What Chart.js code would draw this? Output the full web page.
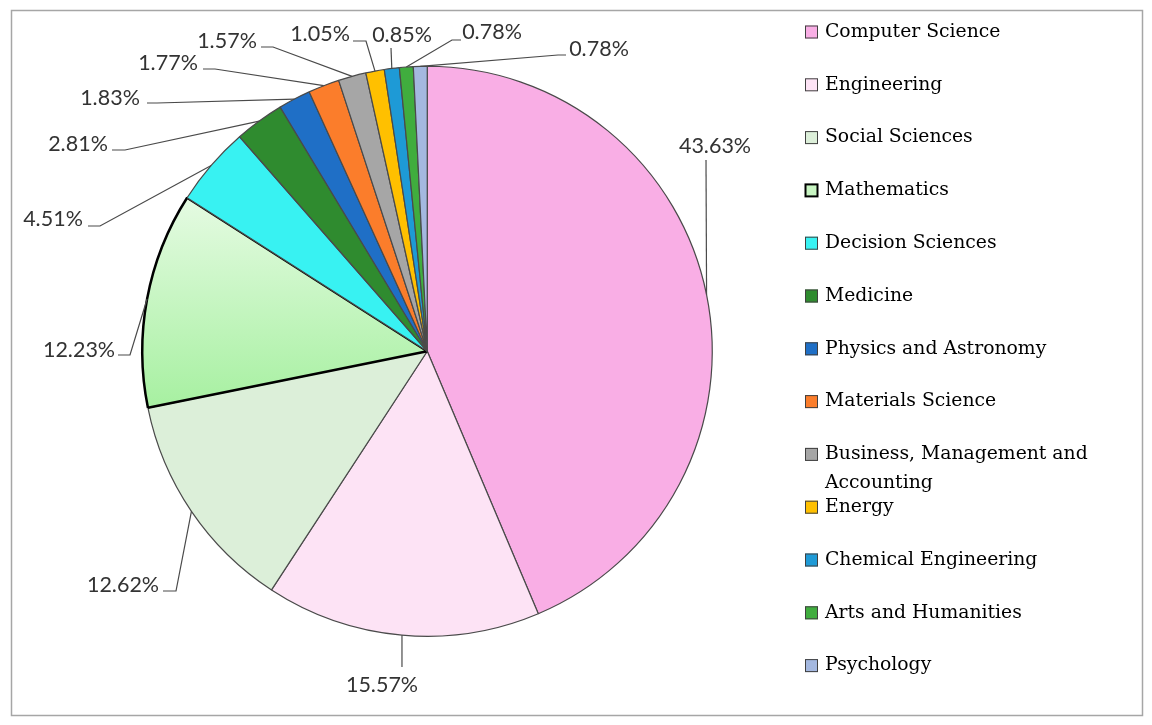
<!DOCTYPE html>
<html>
<head>
<meta charset="utf-8">
<script src="https://cdn.jsdelivr.net/npm/chart.js@4.4.1/dist/chart.umd.min.js"></script>
<style>
  html, body { margin: 0; padding: 0; background: #ffffff; }
  #wrap { width: 1152px; height: 725px; position: relative; }
</style>
</head>
<body>
<div id="wrap"><canvas id="c" width="1152" height="725"></canvas></div>
<script>
// ---- data ----
const categories = [
  'Computer Science', 'Engineering', 'Social Sciences', 'Mathematics',
  'Decision Sciences', 'Medicine', 'Physics and Astronomy', 'Materials Science',
  'Business, Management and Accounting', 'Energy', 'Chemical Engineering',
  'Arts and Humanities', 'Psychology'
];
const shares = [43.63, 15.57, 12.62, 12.23, 4.51, 2.81, 1.83, 1.77, 1.57, 1.05, 0.85, 0.78, 0.78];

// ---- styles ----
const sliceColors = ['#F9AEE5', '#FDE3F5', '#DCEFD9', null, '#38F2F2', '#2F8B2F',
  '#1F6FC6', '#FB7D2B', '#A6A6A6', '#FFC000', '#1E9AD6', '#40AD3E', '#A4B8E0'];
const mathGradTop = '#E6FBE3', mathGradBottom = '#A6F0A0';
const legendLines = [
  ['Computer Science'], ['Engineering'], ['Social Sciences'], ['Mathematics'],
  ['Decision Sciences'], ['Medicine'], ['Physics and Astronomy'], ['Materials Science'],
  ['Business, Management and', 'Accounting'], ['Energy'], ['Chemical Engineering'],
  ['Arts and Humanities'], ['Psychology']
];
// label layout: text centre (tx,ty), elbow (ex,ey), end of short horizontal tick (hx); in canvas px
const labelLayout = [
  {tx: 715, ty: 146, ex: 706, ey: 160, hx: 706},
  {tx: 382, ty: 685, ex: 402, ey: 667, hx: 402},
  {tx: 123, ty: 585, ex: 176, ey: 591, hx: 163},
  {tx: 79,  ty: 350, ex: 130, ey: 355, hx: 118},
  {tx: 53,  ty: 219, ex: 100, ey: 226, hx: 88},
  {tx: 78,  ty: 144, ex: 125, ey: 150, hx: 112},
  {tx: 110, ty: 98,  ex: 157, ey: 103, hx: 147},
  {tx: 168, ty: 63,  ex: 215, ey: 69,  hx: 203},
  {tx: 227, ty: 41,  ex: 273, ey: 47,  hx: 261},
  {tx: 320, ty: 34,  ex: 366, ey: 41,  hx: 353},
  {tx: 402, ty: 35,  ex: 391, ey: 48,  hx: 391},
  {tx: 492, ty: 32,  ex: 452, ey: 40,  hx: 461},
  {tx: 599, ty: 49,  ex: 558, ey: 55,  hx: 566}
];
const labelFont = '21.5px Lato';
const legendFont = '18.8px "DejaVu Serif"';

function mathGradient(chart) {
  const ctx = chart.ctx;
  const g = ctx.createLinearGradient(0, 195, 0, 410);
  g.addColorStop(0, mathGradTop);
  g.addColorStop(1, mathGradBottom);
  return g;
}

const framePlugin = {
  id: 'frame',
  beforeDraw(chart) {
    const ctx = chart.ctx;
    ctx.save();
    ctx.fillStyle = '#ffffff';
    ctx.fillRect(0, 0, chart.width, chart.height);
    ctx.strokeStyle = '#a6a6a6';
    ctx.lineWidth = 1.5;
    ctx.strokeRect(11.5, 10.5, 1131, 705);
    ctx.restore();
  }
};

const leaderPlugin = {
  id: 'leaders',
  afterDatasetsDraw(chart) {
    const ctx = chart.ctx;
    const meta = chart.getDatasetMeta(0);
    ctx.save();
    meta.data.forEach((arc, i) => {
      const L = labelLayout[i];
      const mid = (arc.startAngle + arc.endAngle) / 2;
      const px = arc.x + Math.cos(mid) * arc.outerRadius;
      const py = arc.y + Math.sin(mid) * arc.outerRadius;
      ctx.strokeStyle = '#4a4a4a';
      ctx.lineWidth = 1.2;
      ctx.beginPath();
      ctx.moveTo(px, py);
      ctx.lineTo(L.ex, L.ey);
      ctx.lineTo(L.hx, L.ey);
      ctx.stroke();
      ctx.fillStyle = '#333333';
      ctx.font = labelFont;
      ctx.textAlign = 'center';
      ctx.textBaseline = 'middle';
      ctx.fillText(shares[i].toFixed(2) + '%', L.tx, L.ty);
    });
    ctx.restore();
  }
};

const legendPlugin = {
  id: 'customLegend',
  afterDraw(chart) {
    const ctx = chart.ctx;
    ctx.save();
    const x0 = 805, box = 13, y0 = 32, step = 52.8;
    categories.forEach((c, i) => {
      const yc = y0 + step * i;
      ctx.fillStyle = i === 3 ? '#C8F5C2' : sliceColors[i];
      ctx.fillRect(x0, yc - box / 2, box, box);
      ctx.strokeStyle = i === 3 ? '#000000' : '#404040';
      ctx.lineWidth = i === 3 ? 2 : 1;
      ctx.strokeRect(x0 + 0.5, yc - box / 2 + 0.5, box - 1, box - 1);
      ctx.fillStyle = '#000000';
      ctx.font = legendFont;
      ctx.textAlign = 'left';
      ctx.textBaseline = 'middle';
      legendLines[i].forEach((t, k) => ctx.fillText(t, 825, yc + k * 29));
    });
    ctx.restore();
  }
};

new Chart(document.getElementById('c'), {
  type: 'pie',
  data: {
    labels: categories,
    datasets: [{
      data: shares,
      backgroundColor: (ctx) => ctx.dataIndex === 3 ? mathGradient(ctx.chart) : sliceColors[ctx.dataIndex],
      borderColor: categories.map((c, i) => i === 3 ? '#000000' : '#4a4a4a'),
      borderWidth: categories.map((c, i) => i === 3 ? 2.5 : 1.2)
    }]
  },
  options: {
    responsive: false,
    animation: false,
    devicePixelRatio: 1,
    layout: { padding: { left: 141, right: 438.5, top: 65, bottom: 87.5 } },
    plugins: { legend: { display: false }, tooltip: { enabled: false } }
  },
  plugins: [framePlugin, leaderPlugin, legendPlugin]
});
</script>
</body>
</html>
